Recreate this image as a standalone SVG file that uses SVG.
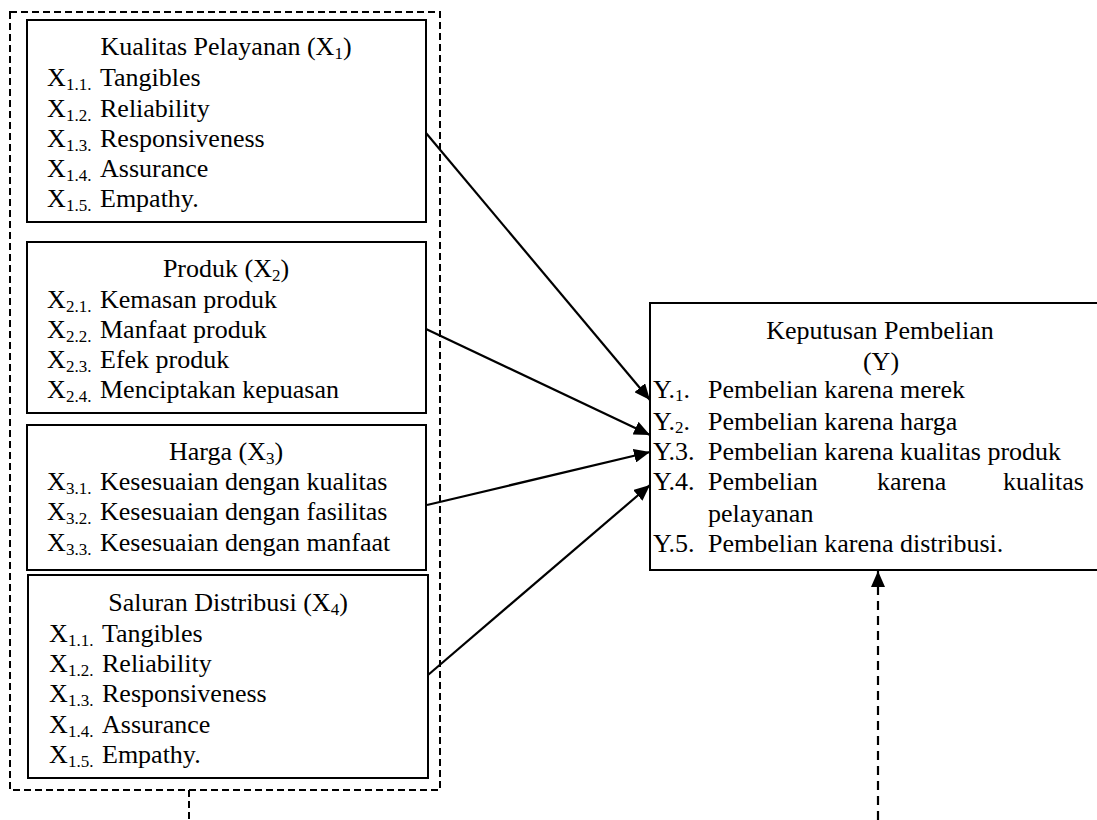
<svg xmlns="http://www.w3.org/2000/svg" width="1097" height="820" viewBox="0 0 1097 820">
<style>
text{font-family:"Liberation Serif","Times New Roman",serif;font-size:26px;fill:#000}
.s{font-size:17px}
.t{text-anchor:middle}
.box{fill:none;stroke:#000;stroke-width:2}
.dash{fill:none;stroke:#000;stroke-width:2;stroke-dasharray:7 4}
.arr{stroke:#000;stroke-width:2.2;fill:none;marker-end:url(#ah)}
.darr{stroke:#000;stroke-width:2.2;fill:none;stroke-dasharray:9 6;marker-end:url(#ah)}
</style>
<defs>
<marker id="ah" markerUnits="userSpaceOnUse" markerWidth="18" markerHeight="14" refX="16" refY="7" orient="auto">
<path d="M0,0 L16,7 L0,14 Z" fill="#000"/>
</marker>
</defs>
<rect width="1097" height="820" fill="#fff"/>
<g id="group-x">
<rect class="dash" x="10" y="12" width="430" height="778"/>
</g>
<g id="x1">
<rect class="box" x="27" y="20" width="399" height="202"/>
<text class="t" x="226" y="55">Kualitas Pelayanan (X<tspan class="s" dy="4">1</tspan><tspan dy="-4">)</tspan></text>
<text x="47" y="86">X</text><text class="s" x="66" y="90">1.1.</text><text x="100" y="86">Tangibles</text>
<text x="47" y="117">X</text><text class="s" x="66" y="121">1.2.</text><text x="100" y="117">Reliability</text>
<text x="47" y="147">X</text><text class="s" x="66" y="151">1.3.</text><text x="100" y="147">Responsiveness</text>
<text x="47" y="177">X</text><text class="s" x="66" y="181">1.4.</text><text x="100" y="177">Assurance</text>
<text x="47" y="207">X</text><text class="s" x="66" y="211">1.5.</text><text x="100" y="207">Empathy.</text>
</g>
<g id="x2">
<rect class="box" x="27" y="242" width="399" height="171"/>
<text class="t" x="226" y="277">Produk (X<tspan class="s" dy="4">2</tspan><tspan dy="-4">)</tspan></text>
<text x="47" y="308">X</text><text class="s" x="66" y="312">2.1.</text><text x="100" y="308">Kemasan produk</text>
<text x="47" y="338">X</text><text class="s" x="66" y="342">2.2.</text><text x="100" y="338">Manfaat produk</text>
<text x="47" y="368">X</text><text class="s" x="66" y="372">2.3.</text><text x="100" y="368">Efek produk</text>
<text x="47" y="398">X</text><text class="s" x="66" y="402">2.4.</text><text x="100" y="398">Menciptakan kepuasan</text>
</g>
<g id="x3">
<rect class="box" x="27" y="425" width="399" height="145"/>
<text class="t" x="226" y="460">Harga (X<tspan class="s" dy="4">3</tspan><tspan dy="-4">)</tspan></text>
<text x="47" y="490">X</text><text class="s" x="66" y="494">3.1.</text><text x="100" y="490">Kesesuaian dengan kualitas</text>
<text x="47" y="520">X</text><text class="s" x="66" y="524">3.2.</text><text x="100" y="520">Kesesuaian dengan fasilitas</text>
<text x="47" y="551">X</text><text class="s" x="66" y="555">3.3.</text><text x="100" y="551">Kesesuaian dengan manfaat</text>
</g>
<g id="x4">
<rect class="box" x="28" y="575" width="400" height="203"/>
<text class="t" x="228" y="611">Saluran Distribusi (X<tspan class="s" dy="4">4</tspan><tspan dy="-4">)</tspan></text>
<text x="49" y="642">X</text><text class="s" x="68" y="646">1.1.</text><text x="102" y="642">Tangibles</text>
<text x="49" y="672">X</text><text class="s" x="68" y="676">1.2.</text><text x="102" y="672">Reliability</text>
<text x="49" y="702">X</text><text class="s" x="68" y="706">1.3.</text><text x="102" y="702">Responsiveness</text>
<text x="49" y="733">X</text><text class="s" x="68" y="737">1.4.</text><text x="102" y="733">Assurance</text>
<text x="49" y="763">X</text><text class="s" x="68" y="767">1.5.</text><text x="102" y="763">Empathy.</text>
</g>
<g id="y">
<rect class="box" x="650" y="303" width="460" height="267"/>
<text class="t" x="880" y="339">Keputusan Pembelian</text>
<text class="t" x="881" y="370">(Y)</text>
<text x="653" y="398">Y.<tspan class="s" dy="3">1</tspan><tspan dy="-3">.</tspan></text><text x="708" y="398">Pembelian karena merek</text>
<text x="653" y="430">Y.<tspan class="s" dy="3">2</tspan><tspan dy="-3">.</tspan></text><text x="708" y="430">Pembelian karena harga</text>
<text x="653" y="460">Y.3.</text><text x="708" y="460">Pembelian karena kualitas produk</text>
<text x="653" y="490">Y.4.</text><text x="708" y="490">Pembelian</text><text x="877" y="490">karena</text><text x="1003" y="490">kualitas</text>
<text x="708" y="522">pelayanan</text>
<text x="653" y="552">Y.5.</text><text x="708" y="552">Pembelian karena distribusi.</text>
</g>
<g id="connectors">
<line class="arr" x1="426" y1="133" x2="650" y2="400"/>
<line class="arr" x1="426" y1="329" x2="650" y2="435"/>
<line class="arr" x1="427" y1="505" x2="650" y2="452"/>
<line class="arr" x1="428" y1="675" x2="650" y2="485"/>
<line class="dash" x1="189" y1="790" x2="189" y2="820"/>
<line class="darr" x1="878" y1="820" x2="878" y2="571"/>
</g>
</svg>
